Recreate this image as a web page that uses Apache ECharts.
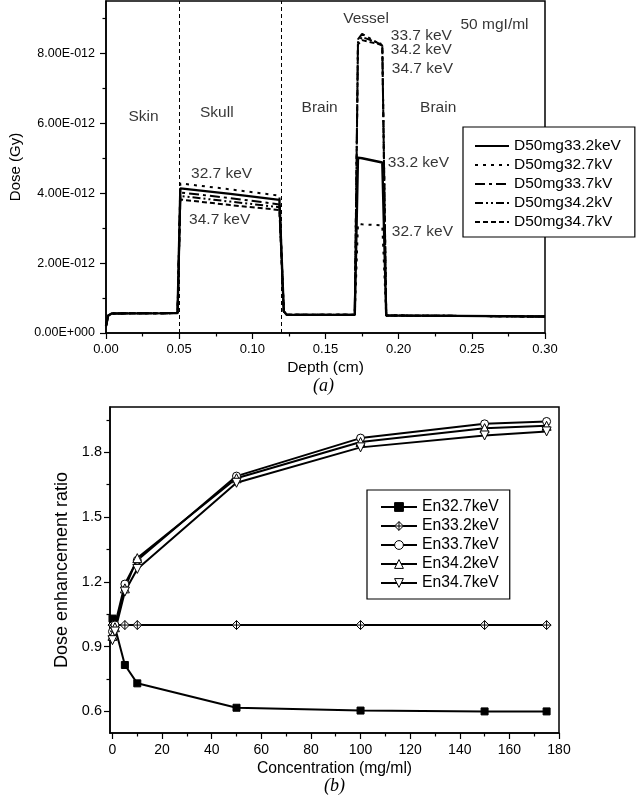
<!DOCTYPE html>
<html>
<head>
<meta charset="utf-8">
<title>Dose vs depth and dose enhancement ratio</title>
<script src="https://cdn.jsdelivr.net/npm/echarts@6/dist/echarts.min.js"></script>
<style>
  html, body { margin: 0; padding: 0; background: #fff; }
  #chart { width: 640px; height: 801px; }
</style>
</head>
<body>
<div id="chart"></div>
<script>
// ---- panel (a): dose vs depth at 50 mgI/ml (dose in units of 1E-012 Gy)
const depthCm = [0, 0.0015, 0.004, 0.0489, 0.0508, 0.085, 0.1185, 0.1215, 0.1235, 0.170, 0.1722, 0.175, 0.1888, 0.1915, 0.24, 0.30];
const dose332 = [0.20, 0.50, 0.56, 0.57, 4.14, 3.98, 3.81, 0.62, 0.52, 0.52, 5.02, 5.00, 4.88, 0.50, 0.49, 0.47];
const dose327 = [0.20, 0.50, 0.56, 0.57, 4.28, 4.11, 3.93, 0.62, 0.52, 0.52, 3.12, 3.11, 3.08, 0.50, 0.49, 0.47];
const dose337 = [0.20, 0.50, 0.56, 0.57, 4.02, 3.86, 3.68, 0.62, 0.52, 0.52, 8.40, 8.56, 8.22, 0.50, 0.49, 0.47];
const dose342 = [0.20, 0.50, 0.56, 0.57, 3.92, 3.76, 3.60, 0.62, 0.52, 0.52, 8.32, 8.47, 8.26, 0.50, 0.49, 0.47];
const dose347 = [0.20, 0.50, 0.56, 0.57, 3.82, 3.66, 3.52, 0.62, 0.52, 0.52, 8.26, 8.38, 8.24, 0.50, 0.49, 0.47];
const doseNames = ['D50mg33.2keV', 'D50mg32.7kV', 'D50mg33.7kV', 'D50mg34.2kV', 'D50mg34.7kV'];
const doseSeries = [dose332, dose327, dose337, dose342, dose347];
const layerBounds = [0.05, 0.1235];

const depthTicks = [0, 0.05, 0.10, 0.15, 0.20, 0.25, 0.30];
const depthMinorTicks = [0.025, 0.075, 0.125, 0.175, 0.225, 0.275];
const doseTicks = [0, 2, 4, 6, 8];
const doseMinorTicks = [1, 3, 5, 7, 9];

// [depth, dose, text]
const annotations = [
  [0.0257, 6.20, 'Skin'],
  [0.0757, 6.31, 'Skull'],
  [0.146, 6.46, 'Brain'],
  [0.227, 6.46, 'Brain'],
  [0.1777, 9.00, 'Vessel'],
  [0.2655, 8.83, '50 mgI/ml'],
  [0.2155, 8.51, '33.7 keV'],
  [0.2155, 8.11, '34.2 keV'],
  [0.2162, 7.57, '34.7 keV'],
  [0.2135, 4.86, '33.2 keV'],
  [0.2162, 2.89, '32.7 keV'],
  [0.0790, 4.57, '32.7 keV'],
  [0.0777, 3.23, '34.7 keV']
];

// ---- panel (b): dose enhancement ratio vs concentration
const concentration = [0, 1, 5, 10, 50, 100, 150, 175];
const en327 = [1.03, 0.99, 0.815, 0.73, 0.617, 0.604, 0.600, 0.600];
const en332 = [1.00, 1.00, 1.00, 1.00, 1.00, 1.00, 1.00, 1.00];
const en337 = [0.97, 1.00, 1.19, 1.30, 1.69, 1.866, 1.932, 1.943];
const en342 = [0.95, 0.99, 1.17, 1.31, 1.68, 1.848, 1.912, 1.923];
const en347 = [0.93, 0.97, 1.155, 1.26, 1.659, 1.823, 1.878, 1.897];
const enNames = ['En32.7keV', 'En33.2keV', 'En33.7keV', 'En34.2keV', 'En34.7keV'];
const enSeries = [en327, en332, en337, en342, en347];

const concTicks = [0, 20, 40, 60, 80, 100, 120, 140, 160, 180];
const concMinorTicks = [10, 30, 50, 70, 90, 110, 130, 150, 170];
const ratioTicks = [0.6, 0.9, 1.2, 1.5, 1.8];
const ratioMinorTicks = [0.75, 1.05, 1.35, 1.65, 1.95];

const FONT = 'Liberation Sans, Arial, sans-serif';

// line looks for panel (a), in legend order
const doseDash = ['solid', [3, 5], [10, 4, 3, 4], [8, 3, 2, 3, 2, 3], [5, 3]];
const doseWidth = [2.4, 2, 2, 2, 2];

// markers for panel (b)
const diamondCross = 'path://M10,0 L20,10 L10,20 L0,10 Z M10,0 L10,20 M0,10 L20,10';
const enSymbol = ['rect', diamondCross, 'circle', 'triangle', 'triangle'];
const enSymbolSize = [7, 9, 8, 9, 9];
const enRotate = [0, 0, 0, 0, 180];

function majorAxis(gridIndex, min, max, ticks, extra) {
  return Object.assign({
    type: 'value',
    gridIndex: gridIndex,
    min: min,
    max: max,
    axisLine: { show: true, onZero: false, lineStyle: { color: '#000', width: 1.5 } },
    axisTick: { show: true, inside: false, length: 6, customValues: ticks, lineStyle: { color: '#000', width: 1.2 } },
    splitLine: { show: false }
  }, extra);
}

function minorAxis(gridIndex, min, max, ticks, position) {
  return {
    type: 'value',
    gridIndex: gridIndex,
    position: position,
    min: min,
    max: max,
    axisLine: { show: false, onZero: false },
    axisTick: { show: true, inside: false, length: 3.5, customValues: ticks, lineStyle: { color: '#000', width: 1.2 } },
    axisLabel: { show: false },
    splitLine: { show: false }
  };
}

const chart = echarts.init(document.getElementById('chart'));

const series = [];

doseSeries.forEach((vals, i) => {
  const s = {
    name: doseNames[i],
    type: 'line',
    xAxisIndex: 0,
    yAxisIndex: 0,
    symbol: 'none',
    data: depthCm.map((d, k) => [d, vals[k]]),
    lineStyle: { color: '#000', width: doseWidth[i], type: doseDash[i] },
    itemStyle: { color: '#000' },
    z: 3
  };
  if (i === 0) {
    s.markLine = {
      silent: true,
      symbol: ['none', 'none'],
      label: { show: false },
      lineStyle: { color: '#000', width: 1, type: [4, 3] },
      data: layerBounds.map(x => ({ xAxis: x }))
    };
  }
  series.push(s);
});

series.push({
  type: 'scatter',
  xAxisIndex: 0,
  yAxisIndex: 0,
  symbolSize: 1,
  itemStyle: { color: 'rgba(0,0,0,0)' },
  silent: true,
  data: annotations,
  label: {
    show: true,
    position: 'inside',
    formatter: p => p.data[2],
    color: '#000',
    fontFamily: FONT,
    fontSize: 15.5
  },
  z: 5
});

enSeries.forEach((vals, i) => {
  series.push({
    name: enNames[i],
    type: 'line',
    xAxisIndex: 2,
    yAxisIndex: 2,
    symbol: enSymbol[i],
    symbolSize: enSymbolSize[i],
    symbolRotate: enRotate[i],
    showAllSymbol: true,
    data: concentration.map((c, k) => [c, vals[k]]),
    lineStyle: { color: '#000', width: 2 },
    itemStyle: {
      color: i === 0 ? '#000' : '#fff',
      borderColor: '#000',
      borderWidth: 1
    },
    z: 3
  });
});

const option = {
  animation: false,
  backgroundColor: '#fff',
  textStyle: { fontFamily: FONT, color: '#000' },
  grid: [
    { left: 101, right: 95, top: 1, height: 332, show: true, borderColor: '#000', borderWidth: 1.5, backgroundColor: 'transparent' },
    { left: 110, right: 81, top: 407, height: 326, show: true, borderColor: '#000', borderWidth: 1.5, backgroundColor: 'transparent' }
  ],
  xAxis: [
    majorAxis(0, 0, 0.3, depthTicks, {
      position: 'bottom',
      name: 'Depth (cm)',
      nameLocation: 'middle',
      nameGap: 27,
      nameTextStyle: { fontSize: 15.5, color: '#000', fontFamily: FONT, verticalAlign: 'top' },
      axisLabel: { show: true, customValues: depthTicks, formatter: v => v.toFixed(2), color: '#000', fontFamily: FONT, fontSize: 13, margin: 10 }
    }),
    minorAxis(0, 0, 0.3, depthMinorTicks, 'bottom'),
    majorAxis(1, -1, 180, concTicks, {
      position: 'bottom',
      name: 'Concentration (mg/ml)',
      nameLocation: 'middle',
      nameGap: 28,
      nameTextStyle: { fontSize: 15.7, color: '#000', fontFamily: FONT, verticalAlign: 'top' },
      axisLabel: { show: true, customValues: concTicks, formatter: v => String(v), color: '#000', fontFamily: FONT, fontSize: 14, margin: 10 }
    }),
    minorAxis(1, -1, 180, concMinorTicks, 'bottom')
  ],
  yAxis: [
    majorAxis(0, 0, 9.5, doseTicks, {
      position: 'left',
      name: 'Dose (Gy)',
      nameLocation: 'middle',
      nameRotate: 90,
      nameGap: 83,
      nameTextStyle: { fontSize: 15, color: '#000', fontFamily: FONT },
      axisLabel: { show: true, customValues: doseTicks, formatter: v => (v === 0 ? '0.00E+000' : v.toFixed(2) + 'E-012'), color: '#000', fontFamily: FONT, fontSize: 12.5, margin: 11 }
    }),
    minorAxis(0, 0, 9.5, doseMinorTicks, 'left'),
    majorAxis(1, 0.5, 2.01, ratioTicks, {
      position: 'left',
      name: 'Dose enhancement ratio',
      nameLocation: 'middle',
      nameRotate: 90,
      nameGap: 36,
      nameTextStyle: { fontSize: 18, color: '#000', fontFamily: FONT },
      axisLabel: { show: true, customValues: ratioTicks, formatter: v => v.toFixed(1), color: '#000', fontFamily: FONT, fontSize: 14.5, margin: 8 }
    }),
    minorAxis(1, 0.5, 2.01, ratioMinorTicks, 'left')
  ],
  legend: [
    {
      data: doseNames,
      orient: 'vertical',
      left: 463,
      top: 127,
      itemWidth: 34,
      itemHeight: 14,
      itemGap: 3,
      padding: [11, 14, 7, 11],
      backgroundColor: '#fff',
      borderColor: '#000',
      borderWidth: 1.2,
      borderRadius: 0,
      selectedMode: false,
      itemStyle: { opacity: 0 },
      textStyle: { fontSize: 15.5, color: '#000', fontFamily: FONT }
    },
    {
      data: enNames,
      orient: 'vertical',
      left: 367,
      top: 490,
      itemWidth: 36,
      itemHeight: 11,
      itemGap: 3,
      padding: [9, 11, 8, 13],
      backgroundColor: '#fff',
      borderColor: '#000',
      borderWidth: 1.2,
      borderRadius: 0,
      selectedMode: false,
      itemStyle: { borderWidth: 1 },
      textStyle: { fontSize: 15.7, color: '#000', fontFamily: FONT }
    }
  ],
  graphic: [
    { type: 'text', left: 313, top: 377, style: { text: '(a)', font: 'italic 18px "Liberation Serif", "Times New Roman", serif', fill: '#000' } },
    { type: 'text', left: 324, top: 777, style: { text: '(b)', font: 'italic 18px "Liberation Serif", "Times New Roman", serif', fill: '#000' } }
  ],
  series: series
};

chart.setOption(option);
</script>
</body>
</html>
